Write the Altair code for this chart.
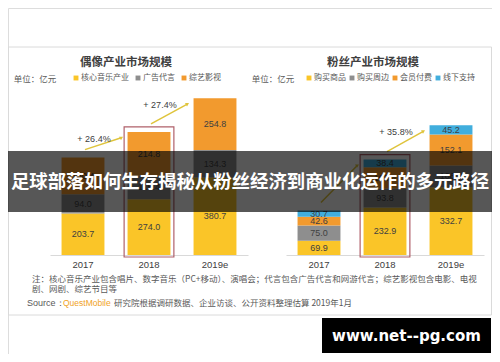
import altair as alt
import pandas as pd

# ---------------- data ----------------
years = ['2017', '2018', '2019e']

idol_series = ['核心音乐产业', '广告代言', '综艺影视']
idol_values = {
    '核心音乐产业': [203.7, 274.0, 380.7],
    '广告代言': [94.0, 115.4, 134.3],
    '综艺影视': [180.4, 214.8, 254.8],
}
idol_growth = ['+ 26.4%', '+ 27.4%']

fan_series = ['购买商品', '购买周边', '会员付费', '线下支持']
fan_values = {
    '购买商品': [69.9, 232.9, 332.7],
    '购买周边': [75.0, 93.8, 106.2],
    '会员付费': [42.6, 103.4, 152.1],
    '线下支持': [30.7, 38.4, 45.2],
}
fan_growth = ['', '+ 35.8%']

highlight_year = '2018'
y_ticks = [0, 200, 400, 600, 800]

idol_title = '偶像产业市场规模'
fan_title = '粉丝产业市场规模'
unit_text = '单位：亿元'
note_line1 = '注：核心音乐产业包含唱片、数字音乐（PC+移动）、演唱会；代言包含广告代言和网游代言；综艺影视包含电影、电视'
note_line2 = '剧、网剧、综艺节目等'
source_label = 'Source：'
source_brand = 'QuestMobile'
source_rest = '研究院根据调研数据、企业访谈、公开资料整理估算 2019年1月'
banner_text = '足球部落如何生存揭秘从粉丝经济到商业化运作的多元路径'
site_text = 'www.net--pg.com'

# ---------------- styles ----------------
YELLOW = '#FAC528'
GRAY = '#8E8E8E'
ORANGE = '#F29A2E'
BLUE = '#41AEDD'
ARROW = '#DFC43C'
BOX = '#B0606A'
W, H = 484, 346
Y0, YTOP = 247, 84
FONT = 'Liberation Sans, Noto Sans CJK SC'
CJK = 'Noto Sans CJK SC'
# arrow geometry (fractions of a category step / value units of gap to the bar tops)
ARROW_START_SHIFT, ARROW_END_SHIFT = 0.03, 0.42
ARROW_START_GAP, ARROW_END_GAP = 39, 29


def long_df(series, values):
    rows = []
    for i, s in enumerate(series):
        for j, yv in enumerate(years):
            rows.append({'year': yv, 'series': s, 'value': values[s][j], 'order': i})
    return pd.DataFrame(rows)


def panel(series, values, growth, colors, x_range, legend_x, col_pad):
    df = long_df(series, values)
    totals = [round(sum(values[s][j] for s in series), 1) for j in range(len(years))]
    xscale = alt.Scale(domain=years, range=x_range, paddingInner=0.35, paddingOuter=0.175)
    # linear twin of the band scale: category index i -> centre of band i
    xlin = alt.Scale(domain=[-0.5, len(years) - 0.5], range=x_range, nice=False, zero=False)
    yscale = alt.Scale(domain=[0, 800], range=[Y0, YTOP], nice=False, zero=True)

    bars = alt.Chart(df).mark_bar().encode(
        x=alt.X('year:N', scale=xscale, sort=years,
                axis=alt.Axis(orient='bottom', offset=-(H - Y0), title=None, labelAngle=0,
                              ticks=False, domainColor='#D9D9D9', labelPadding=4,
                              labelFontSize=9.5, labelColor='#404040', labelFont=FONT)),
        y=alt.Y('value:Q', stack='zero', scale=yscale,
                axis=alt.Axis(orient='left', offset=-x_range[0], title=None, values=y_ticks,
                              grid=False, ticks=False, domainColor='#D9D9D9', labelPadding=9,
                              labelFontSize=8.5, labelColor='#595959', labelFont=FONT)),
        color=alt.Color('series:N', scale=alt.Scale(domain=series, range=colors),
                        legend=alt.Legend(orient='none', legendX=legend_x, legendY=66,
                                          direction='horizontal', title=None,
                                          symbolType='square', symbolSize=24,
                                          symbolStrokeWidth=0, labelFontSize=8,
                                          labelColor='#595959', labelFont=CJK,
                                          columnPadding=col_pad, labelOffset=1,
                                          padding=0)),
        order=alt.Order('order:Q', sort='ascending'),
    )

    seg_text = alt.Chart(df).transform_stack(
        stack='value', groupby=['year'],
        sort=[alt.SortField('order', 'ascending')], as_=['v0', 'v1']
    ).transform_calculate(
        mid='(datum.v0 + datum.v1) / 2', label="format(datum.value, '.1f')"
    ).mark_text(fontSize=9, color='#404040', font=FONT).encode(
        x=alt.X('year:N', scale=xscale, sort=years, axis=None),
        y=alt.Y('mid:Q', scale=yscale, axis=None),
        text='label:N',
    )

    box_df = pd.DataFrame({'year': [highlight_year],
                           'total': [totals[years.index(highlight_year)]]})
    box = alt.Chart(box_df).mark_bar(
        filled=False, stroke=BOX, strokeWidth=1.2,
        width=alt.RelativeBandSize(1.16), yOffset=-5, y2Offset=2
    ).encode(
        x=alt.X('year:N', scale=xscale, sort=years, axis=None),
        y=alt.Y('total:Q', scale=yscale, axis=None),
        y2=alt.datum(0),
    )

    arrows = pd.DataFrame({
        'from': years[:-1], 'to': years[1:],
        'from_total': totals[:-1], 'to_total': totals[1:],
        'label': growth,
    })
    pts = []
    for k in range(len(years) - 1):
        pts.append({'arrow': k, 'seq': 0, 'xi': k + ARROW_START_SHIFT,
                    'v': totals[k] + ARROW_START_GAP})
        pts.append({'arrow': k, 'seq': 1, 'xi': k + 1 - ARROW_END_SHIFT,
                    'v': totals[k + 1] - ARROW_END_GAP})
    line = alt.Chart(pd.DataFrame(pts)).mark_line(color=ARROW, strokeWidth=1.5).encode(
        x=alt.X('xi:Q', scale=xlin, axis=None),
        y=alt.Y('v:Q', scale=yscale, axis=None),
        detail='arrow:N',
        order='seq:Q',
    )
    head = alt.Chart(arrows).mark_point(
        shape='triangle', angle=60, filled=True, size=16, color=ARROW, opacity=1,
        xOffset=-28, yOffset=6
    ).encode(
        x=alt.X('to:N', scale=xscale, sort=years, axis=None),
        y=alt.Y('to_total:Q', scale=yscale, axis=None),
    )
    glabel = alt.Chart(arrows).mark_text(
        fontSize=9, color='#404040', font=FONT, xOffset=-55, yOffset=7
    ).encode(
        x=alt.X('to:N', scale=xscale, sort=years, axis=None),
        y=alt.Y('to_total:Q', scale=yscale, axis=None),
        text='label:N',
    )
    return alt.layer(bars, seg_text, box, line, head, glabel).resolve_scale(x='independent')


left = panel(idol_series, idol_values, idol_growth, [YELLOW, GRAY, ORANGE],
             [42, 240], 64, 5)
right = panel(fan_series, fan_values, fan_growth, [YELLOW, GRAY, ORANGE, BLUE],
              [278, 476], 297, 2)

dummy = pd.DataFrame({'k': [0]})
base = alt.Chart(dummy)


def txt(t, x, y, size=8.5, color='#595959', align='center', weight='normal', font=CJK):
    return base.mark_text(text=t, x=x, y=y, fontSize=size, color=color, align=align,
                          baseline='middle', fontWeight=weight, font=font)


frame = base.mark_rect(fill='white', fillOpacity=0, stroke='#DADADA', strokeWidth=1).encode(
    x=alt.value(0.5), x2=alt.value(W - 0.5), y=alt.value(39), y2=alt.value(307))

overlay = [
    txt(idol_title, 118, 55, size=11.5, color='#404040', weight='bold'),
    txt(fan_title, 365, 55, size=11.5, color='#404040', weight='bold'),
    txt(unit_text, 27, 71),
    txt(unit_text, 265, 71),
    txt(note_line1, 24, 271, align='left'),
    txt(note_line2, 24, 281, align='left'),
    txt(source_label, 19, 295, size=9, align='left', font='Liberation Sans'),
    txt(source_brand, 55, 295, size=8.5, color='#F0A21E', align='left', font='Liberation Sans'),
    txt(source_rest, 106, 295, align='left'),
    base.mark_rect(color='black', opacity=0.66).encode(
        x=alt.value(0), x2=alt.value(W), y=alt.value(143), y2=alt.value(204)),
    txt(banner_text, W / 2, 174, size=18.4, color='white', weight='bold'),
    base.mark_rect(color='black').encode(
        x=alt.value(314), x2=alt.value(483), y=alt.value(310), y2=alt.value(345)),
    txt(site_text, 398.5, 328, size=15, color='white', weight='bold', font='DejaVu Sans'),
]

chart = alt.layer(frame, left, right, *overlay).resolve_scale(
    x='independent', y='independent', color='independent'
).properties(
    width=W, height=H, autosize=alt.AutoSizeParams(type='none'), padding=0,
    background='white'
).configure_view(strokeWidth=0).configure(font=FONT)

chart.save('out.html', embed_options={'renderer': 'svg', 'actions': False})
